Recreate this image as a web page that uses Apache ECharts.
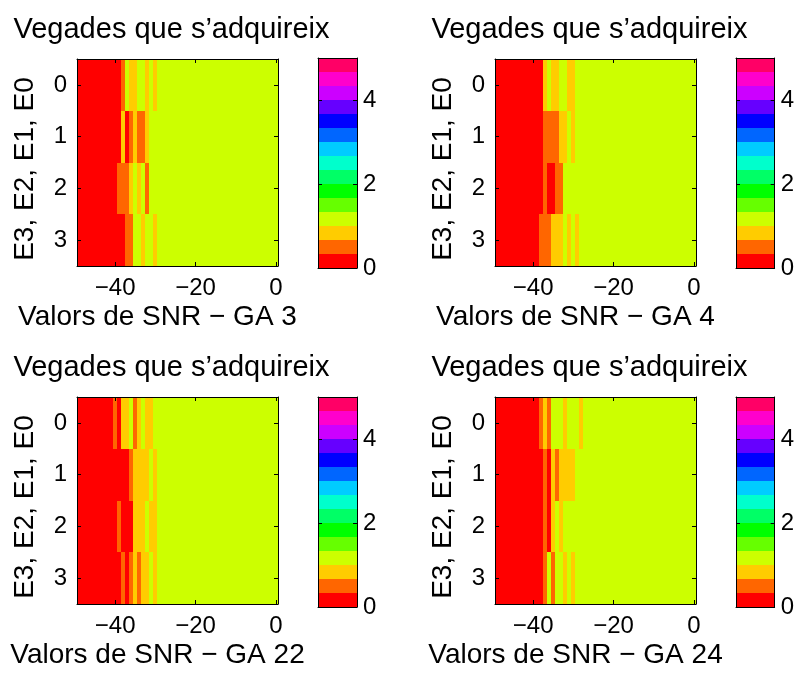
<!DOCTYPE html>
<html><head><meta charset="utf-8">
<script src="https://cdn.jsdelivr.net/npm/echarts@6/dist/echarts.min.js"></script>
<style>html,body{margin:0;padding:0;background:#fff}#c{width:797px;height:674px}</style>
</head><body><div id="c"></div>
<script>
// ---------- data ----------
const snr = [-49,-48,-47,-46,-45,-44,-43,-42,-41,-40,-39,-38,-37,-36,-35,-34,-33,-32,-31,-30,
  -29,-28,-27,-26,-25,-24,-23,-22,-21,-20,-19,-18,-17,-16,-15,-14,-13,-12,-11,-10,
  -9,-8,-7,-6,-5,-4,-3,-2,-1,0];
const rows = [0,1,2,3];
const xTicks = [-40,-20,0];
const cbTicks = [0,2,4];
const cbRange = [0,5];
const colormap = ['#ff0000','#ff6600','#ffcc00','#ccff00','#66ff00','#00ff00','#00ff66','#00ffcc',
  '#00ccff','#0066ff','#0000ff','#6600ff','#cc00ff','#ff00cc','#ff0066'];
const panelNames = ['GA 3','GA 4','GA 22','GA 24'];
const titleText = 'Vegades que s\u2019adquireix';
const xLabelText = 'Valors de SNR \u2212 ';
const yLabelText = 'E3, E2, E1, E0';

const ga3_E0 = [0,0,0,0,0,0,0,0,0,0,0, .5,1,.8,.8,1,1,.8,1,.8, 1,1,1,1,1,1,1,1,1,1,1,1,1,1,1,1,1,1,1,1,1,1,1,1,1,1,1,1,1,1];
const ga3_E1 = [0,0,0,0,0,0,0,0,0,0,0, .8,0,.5,.8,.5,.5,.8, 1,1,1,1,1,1,1,1,1,1,1,1,1,1,1,1,1,1,1,1,1,1,1,1,1,1,1,1,1,1,1,1];
const ga3_E2 = [0,0,0,0,0,0,0,0,0,0, .5,.5,.5,.8,1,.8,1,.5, 1,1,1,1,1,1,1,1,1,1,1,1,1,1,1,1,1,1,1,1,1,1,1,1,1,1,1,1,1,1,1,1];
const ga3_E3 = [0,0,0,0,0,0,0,0,0,0,0,0, .5,.5,1,1,.8,1,1,.8, 1,1,1,1,1,1,1,1,1,1,1,1,1,1,1,1,1,1,1,1,1,1,1,1,1,1,1,1,1,1];

const ga4_E0 = [0,0,0,0,0,0,0,0,0,0,0,0, .8,1,.8,.8,1,1,.8,.8, 1,1,1,1,1,1,1,1,1,1,1,1,1,1,1,1,1,1,1,1,1,1,1,1,1,1,1,1,1,1];
const ga4_E1 = [0,0,0,0,0,0,0,0,0,0,0,0, .5,.5,.5,.5,.8,.8,1,.8, 1,1,1,1,1,1,1,1,1,1,1,1,1,1,1,1,1,1,1,1,1,1,1,1,1,1,1,1,1,1];
const ga4_E2 = [0,0,0,0,0,0,0,0,0,0,0,0, .5,0,0,.5,.5, 1,1,1,1,1,1,1,1,1,1,1,1,1,1,1,1,1,1,1,1,1,1,1,1,1,1,1,1,1,1,1,1,1];
const ga4_E3 = [0,0,0,0,0,0,0,0,0,0,0, .5,.5,.5,.8,.8,.8,1,.8,1,.8, 1,1,1,1,1,1,1,1,1,1,1,1,1,1,1,1,1,1,1,1,1,1,1,1,1,1,1,1,1];

const ga22_E0 = [0,0,0,0,0,0,0,0,0, .5,0,.8,.8,1,.5,.8,1,.8,.8, 1,1,1,1,1,1,1,1,1,1,1,1,1,1,1,1,1,1,1,1,1,1,1,1,1,1,1,1,1,1,1];
const ga22_E1 = [0,0,0,0,0,0,0,0,0,0,0,0,0, .5,.8,.8,.8,.8,1,.8, 1,1,1,1,1,1,1,1,1,1,1,1,1,1,1,1,1,1,1,1,1,1,1,1,1,1,1,1,1,1];
const ga22_E2 = [0,0,0,0,0,0,0,0,0,0, .5,0,0,0,.8,.8,.8,1,.8,.8, 1,1,1,1,1,1,1,1,1,1,1,1,1,1,1,1,1,1,1,1,1,1,1,1,1,1,1,1,1,1];
const ga22_E3 = [0,0,0,0,0,0,0,0,0,0,0, .5,0,.5,.8,.5,.8,.8,1,.8, 1,1,1,1,1,1,1,1,1,1,1,1,1,1,1,1,1,1,1,1,1,1,1,1,1,1,1,1,1,1];

const ga24_E0 = [0,0,0,0,0,0,0,0,0,0,0, .5,.8,.5,1,1,1,.8,1,1,1,.8, 1,1,1,1,1,1,1,1,1,1,1,1,1,1,1,1,1,1,1,1,1,1,1,1,1,1,1,1];
const ga24_E1 = [0,0,0,0,0,0,0,0,0,0,0,0, .5,0,.8,.5,.8,.8,.8,.8, 1,1,1,1,1,1,1,1,1,1,1,1,1,1,1,1,1,1,1,1,1,1,1,1,1,1,1,1,1,1];
const ga24_E2 = [0,0,0,0,0,0,0,0,0,0,0,0, .5,0,.8,1,.8, 1,1,1,1,1,1,1,1,1,1,1,1,1,1,1,1,1,1,1,1,1,1,1,1,1,1,1,1,1,1,1,1,1];
const ga24_E3 = [0,0,0,0,0,0,0,0,0,0,0,0, .5,1,.5,1,1,.8,1,.8, 1,1,1,1,1,1,1,1,1,1,1,1,1,1,1,1,1,1,1,1,1,1,1,1,1,1,1,1,1,1];

const panelData = [
  [ga3_E0, ga3_E1, ga3_E2, ga3_E3],
  [ga4_E0, ga4_E1, ga4_E2, ga4_E3],
  [ga22_E0, ga22_E1, ga22_E2, ga22_E3],
  [ga24_E0, ga24_E1, ga24_E2, ga24_E3]
];

// ---------- layout ----------
const FONT = "'Liberation Sans', Arial, Helvetica, sans-serif";
const BLACK = '#000';
const PW = 201, PH = 207;
const panels = [{left:77, top:59}, {left:495, top:59}, {left:77, top:397}, {left:495, top:397}];
const CB_DX = 241, CB_W = 39, CB_H = 210;

const nLev = colormap.length;
const levStep = (cbRange[1] - cbRange[0]) / nLev;
function colorFor(v) {
  let idx = Math.floor((v - cbRange[0]) / levStep + 1e-9);
  idx = Math.max(0, Math.min(nLev - 1, idx));
  return colormap[idx];
}
const fmtNum = v => (v < 0 ? '\u2212' + (-v) : String(v));
const xMin = snr[0] - 0.5, xMax = snr[snr.length - 1] + 0.5;
const yMin = rows[0] - 0.5, yMax = rows[rows.length - 1] + 0.5;

function snapRect(p0, p1) {
  const x0 = Math.round(Math.min(p0[0], p1[0])), x1 = Math.round(Math.max(p0[0], p1[0]));
  const y0 = Math.round(Math.min(p0[1], p1[1])), y1 = Math.round(Math.max(p0[1], p1[1]));
  return { x: x0, y: y0, width: x1 - x0, height: y1 - y0 };
}
function cellRender(params, api) {
  const x = api.value(0), y = api.value(1), v = api.value(2);
  const p0 = api.coord([x - 0.5, y - 0.5]);
  const p1 = api.coord([x + 0.5, y + 0.5]);
  return { type: 'rect', shape: snapRect(p0, p1), style: { fill: colorFor(v) } };
}
function cbRender(params, api) {
  const i = api.value(0);
  const lo = cbRange[0] + i * levStep, hi = lo + levStep;
  const p0 = api.coord([0, lo]);
  const p1 = api.coord([1, hi]);
  return { type: 'rect', shape: snapRect(p0, p1), style: { fill: colormap[i] } };
}

const grids = [], xAxes = [], yAxes = [], series = [], graphics = [];
const lineStyle = { color: BLACK, width: 1 };
const tickStyle = { color: BLACK, width: 1 };
const labelStyle = { fontSize: 24, color: BLACK, fontFamily: FONT };

panels.forEach((p, i) => {
  // main plot
  const g = grids.length;
  grids.push({ left: p.left, top: p.top, width: PW, height: PH });
  const xb = xAxes.length;
  xAxes.push({ gridIndex: g, type: 'value', min: xMin, max: xMax, position: 'bottom', z: 10,
    axisLine: { show: true, onZero: false, lineStyle },
    axisTick: { show: true, inside: true, length: 4, customValues: xTicks, lineStyle: tickStyle },
    axisLabel: Object.assign({ show: true, customValues: xTicks, formatter: fmtNum, margin: 10 }, labelStyle),
    splitLine: { show: false } });
  xAxes.push({ gridIndex: g, type: 'value', min: xMin, max: xMax, position: 'top', z: 10,
    axisLine: { show: true, onZero: false, lineStyle },
    axisTick: { show: true, inside: true, length: 4, customValues: xTicks, lineStyle: tickStyle },
    axisLabel: { show: false }, splitLine: { show: false } });
  const yl = yAxes.length;
  yAxes.push({ gridIndex: g, type: 'value', min: yMin, max: yMax, inverse: true, position: 'left', z: 10,
    axisLine: { show: true, onZero: false, lineStyle },
    axisTick: { show: true, inside: true, length: 4, customValues: rows, lineStyle: tickStyle },
    axisLabel: Object.assign({ show: true, customValues: rows, formatter: fmtNum, margin: 10 }, labelStyle),
    splitLine: { show: false } });
  yAxes.push({ gridIndex: g, type: 'value', min: yMin, max: yMax, inverse: true, position: 'right', z: 10,
    axisLine: { show: true, onZero: false, lineStyle },
    axisTick: { show: true, inside: true, length: 4, customValues: rows, lineStyle: tickStyle },
    axisLabel: { show: false }, splitLine: { show: false } });

  const data = [];
  panelData[i].forEach((rowVals, r) => {
    rowVals.forEach((v, k) => data.push([snr[k], rows[r], v]));
  });
  series.push({ type: 'custom', name: panelNames[i], xAxisIndex: xb, yAxisIndex: yl,
    renderItem: cellRender, data, z: 2, silent: true });

  // colorbar
  const gc = grids.length;
  grids.push({ left: p.left + CB_DX, top: p.top - (p.top < 100 ? 1 : 0), width: CB_W, height: CB_H });
  const cx = xAxes.length;
  xAxes.push({ gridIndex: gc, type: 'value', min: 0, max: 1, position: 'bottom', z: 10,
    axisLine: { show: true, onZero: false, lineStyle }, axisTick: { show: false },
    axisLabel: { show: false }, splitLine: { show: false } });
  xAxes.push({ gridIndex: gc, type: 'value', min: 0, max: 1, position: 'top', z: 10,
    axisLine: { show: true, onZero: false, lineStyle }, axisTick: { show: false },
    axisLabel: { show: false }, splitLine: { show: false } });
  const cy = yAxes.length;
  yAxes.push({ gridIndex: gc, type: 'value', min: cbRange[0], max: cbRange[1], position: 'right', z: 10,
    axisLine: { show: true, onZero: false, lineStyle },
    axisTick: { show: true, inside: true, length: 4, customValues: cbTicks, lineStyle: tickStyle },
    axisLabel: Object.assign({ show: true, customValues: cbTicks, margin: 6 }, labelStyle),
    splitLine: { show: false } });
  yAxes.push({ gridIndex: gc, type: 'value', min: cbRange[0], max: cbRange[1], position: 'left', z: 10,
    axisLine: { show: true, onZero: false, lineStyle },
    axisTick: { show: true, inside: true, length: 4, customValues: cbTicks, lineStyle: tickStyle },
    axisLabel: { show: false }, splitLine: { show: false } });
  series.push({ type: 'custom', xAxisIndex: cx, yAxisIndex: cy, renderItem: cbRender,
    data: colormap.map((c, j) => [j]), z: 2, silent: true });

  // texts
  const cxPlot = p.left + PW / 2;
  const dy = p.top - 59;
  graphics.push({ type: 'text', x: cxPlot - 6, y: 29.5 + dy, z: 20,
    style: { text: titleText, font: '29px ' + FONT, fill: BLACK, align: 'center', verticalAlign: 'middle' } });
  graphics.push({ type: 'text', x: cxPlot - 20, y: 317 + dy, z: 20,
    style: { text: xLabelText + panelNames[i], font: '28px ' + FONT, fill: BLACK, align: 'center', verticalAlign: 'middle' } });
  graphics.push({ type: 'text', x: p.left - 51.5, y: 169 + dy, rotation: Math.PI / 2, z: 20,
    style: { text: yLabelText, font: '28px ' + FONT, fill: BLACK, align: 'center', verticalAlign: 'middle' } });
});

const chart = echarts.init(document.getElementById('c'), null, { renderer: 'canvas' });
chart.setOption({
  backgroundColor: '#fff',
  animation: false,
  grid: grids, xAxis: xAxes, yAxis: yAxes, series,
  graphic: graphics
});
</script></body></html>
